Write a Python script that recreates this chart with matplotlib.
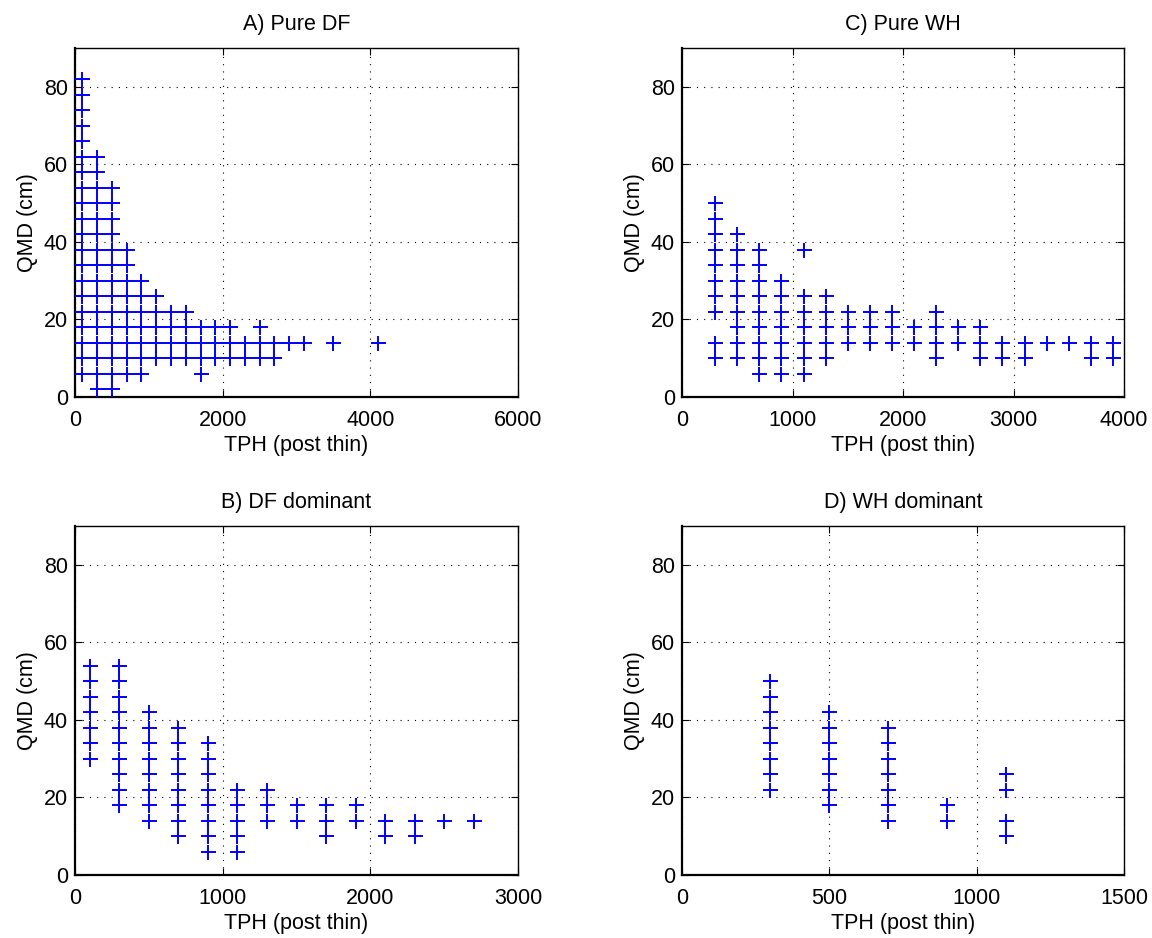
import matplotlib
matplotlib.use("Agg")
import matplotlib.pyplot as plt

plt.rcParams['font.family'] = ['Liberation Sans', 'DejaVu Sans']

# ---- Data: TPH classes and QMD values present at each class ----
# A) Pure DF
a_tph = [100, 300, 500, 700, 900, 1100, 1300, 1500, 1700, 1900, 2100,
         2300, 2500, 2700, 2900, 3100, 3500, 4100]
a_qmd = [
    [82, 78, 74, 70, 66, 62, 58, 54, 50, 46, 42, 38, 34, 30, 26, 22, 18, 14, 10, 6],
    [62, 58, 54, 50, 46, 42, 38, 34, 30, 26, 22, 18, 14, 10, 6, 2],
    [54, 50, 46, 42, 38, 34, 30, 26, 22, 18, 14, 10, 6, 2],
    [38, 34, 30, 26, 22, 18, 14, 10, 6],
    [30, 26, 22, 18, 14, 10, 6],
    [26, 22, 18, 14, 10],
    [22, 18, 14, 10],
    [22, 18, 14, 10],
    [18, 14, 10, 6],
    [18, 14, 10],
    [18, 14, 10],
    [14, 10],
    [18, 14, 10],
    [14, 10],
    [14],
    [14],
    [14],
    [14],
]

# C) Pure WH
c_tph = [300, 500, 700, 900, 1100, 1300, 1500, 1700, 1900, 2100, 2300,
         2500, 2700, 2900, 3100, 3300, 3500, 3700, 3900]
c_qmd = [
    [50, 46, 42, 38, 34, 30, 26, 22, 14, 10],
    [42, 38, 34, 30, 26, 22, 18, 14, 10],
    [38, 34, 30, 26, 22, 18, 14, 10, 6],
    [30, 26, 22, 18, 14, 10, 6],
    [38, 26, 22, 18, 14, 10, 6],
    [26, 22, 18, 14, 10],
    [22, 18, 14],
    [22, 18, 14],
    [22, 18, 14],
    [18, 14],
    [22, 18, 14, 10],
    [18, 14],
    [18, 14, 10],
    [14, 10],
    [14, 10],
    [14],
    [14],
    [14, 10],
    [14, 10],
]

# B) DF dominant
b_tph = [100, 300, 500, 700, 900, 1100, 1300, 1500, 1700, 1900, 2100, 2300, 2500, 2700]
b_qmd = [
    [54, 50, 46, 42, 38, 34, 30],
    [54, 50, 46, 42, 38, 34, 30, 26, 22, 18],
    [42, 38, 34, 30, 26, 22, 18, 14],
    [38, 34, 30, 26, 22, 18, 14, 10],
    [34, 30, 26, 22, 18, 14, 10, 6],
    [22, 18, 14, 10, 6],
    [22, 18, 14],
    [18, 14],
    [18, 14, 10],
    [18, 14],
    [14, 10],
    [14, 10],
    [14],
    [14],
]

# D) WH dominant
d_tph = [300, 500, 700, 900, 1100]
d_qmd = [
    [50, 46, 42, 38, 34, 30, 26, 22],
    [42, 38, 34, 30, 26, 22, 18],
    [38, 34, 30, 26, 22, 18, 14],
    [18, 14],
    [26, 22, 14, 10],
]

titles = ["A) Pure DF", "C) Pure WH", "B) DF dominant", "D) WH dominant"]
xmaxes = [6000, 4000, 3000, 1500]
xtick_sets = [[0, 2000, 4000, 6000], [0, 1000, 2000, 3000, 4000],
              [0, 1000, 2000, 3000], [0, 500, 1000, 1500]]
yticks = [0, 20, 40, 60, 80]

panels = [(a_tph, a_qmd), (c_tph, c_qmd), (b_tph, b_qmd), (d_tph, d_qmd)]

W, H = 1152, 938
fig = plt.figure(figsize=(W / 100, H / 100), dpi=100)

# axes rectangles in pixels: left, top, right, bottom
rects = [(75, 48, 518, 397), (682, 48, 1124, 397),
         (75, 526, 518, 875), (682, 526, 1124, 875)]

FS = 15.5
for i, ((tph, qmd), (l, t, r, b)) in enumerate(zip(panels, rects)):
    ax = fig.add_axes([l / W, 1 - b / H, (r - l) / W, (b - t) / H])
    xs, ys = [], []
    for x, col in zip(tph, qmd):
        for y in col:
            xs.append(x)
            ys.append(y)
    ax.plot(xs, ys, linestyle='none', marker='+', markersize=10.8,
            markeredgewidth=1.4, color='#0000ff', zorder=3)
    ax.set_xlim(0, xmaxes[i])
    ax.set_ylim(0, 90)
    ax.set_xticks(xtick_sets[i])
    ax.set_yticks(yticks)
    ax.grid(True, color='black', linestyle=(0, (1, 5.5)), linewidth=0.8)
    ax.set_axisbelow(True)
    ax.tick_params(direction='in', top=True, right=True, length=5,
                   width=0.8, labelsize=FS, color='black')
    ax.tick_params(axis='x', pad=9)
    ax.tick_params(axis='y', pad=5)
    for side in ['top', 'right']:
        ax.spines[side].set_linewidth(1.0)
    for side in ['bottom', 'left']:
        ax.spines[side].set_linewidth(1.6)
    ax.set_title(titles[i], fontsize=FS, pad=13)
    ax.set_xlabel("TPH (post thin)", fontsize=FS, labelpad=3)
    ax.set_ylabel("QMD (cm)", fontsize=FS, labelpad=4)

fig.savefig("out.png", dpi=100)
